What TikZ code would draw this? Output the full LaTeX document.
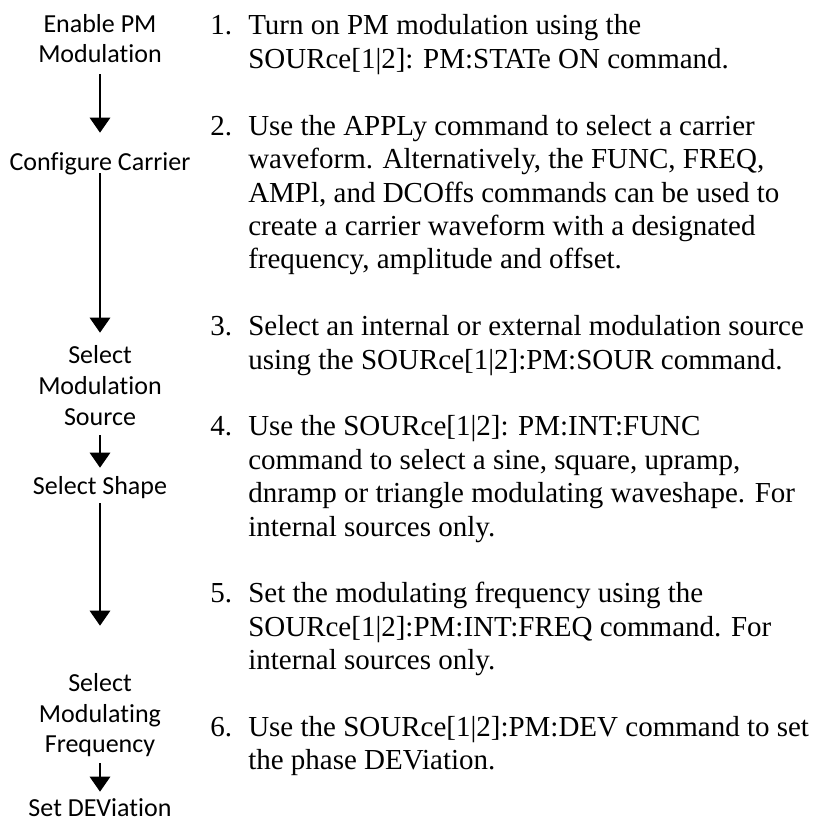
\documentclass[tikz,border=0pt]{standalone}
\usepackage{fontspec}
\setmainfont[Ligatures=NoCommon]{Liberation Serif}
\newfontfamily\leftfont[Ligatures=NoCommon]{Carlito}
\usetikzlibrary{arrows.meta}
\tikzset{
  lbl/.style={anchor=base, inner sep=0pt, text height=13.5pt, text depth=1.5pt,
    font=\leftfont\fontsize{19.5pt}{23pt}\selectfont},
  txt/.style={anchor=base west, inner sep=0pt,
    font=\fontsize{21.75pt}{26pt}\selectfont},
  num/.style={txt},
  arr/.style={line width=2.2pt, -{Triangle[width=15pt,length=11.25pt]}}
}
\begin{document}
\begin{tikzpicture}[x=0.75pt,y=-0.75pt]
\path[use as bounding box] (0,0) rectangle (813,824);
% left column
\node[lbl] (lEn)    at (100,33)  {Enable PM};
\node[lbl] (lMod)   at (100,63)  {Modulation};
\node[lbl] (lConf)  at (100,170) {Configure Carrier};
\node[lbl] (lSel)   at (100,363) {Select};
\node[lbl] (lMod2)  at (100,394) {Modulation};
\node[lbl] (lSrc)   at (100,425) {Source};
\node[lbl] (lShape) at (100,494) {Select Shape};
\node[lbl] (lSelB)  at (100,691) {Select};
\node[lbl] (lModg)  at (100,722) {Modulating};
\node[lbl] (lFreq)  at (100,752) {Frequency};
\node[lbl] (lSet)   at (100,816) {Set DEViation};
\draw[arr, shorten <=6.75pt, shorten >=14.25pt] (lMod.south) -- (lConf.north);
\draw[arr, shorten <=0.75pt, shorten >=9pt] (lConf.south) -- (lSel.north);
\draw[arr, shorten <=6pt, shorten >=6pt] (lSrc.south) -- (lShape.north);
\draw[arr, shorten <=5.25pt, shorten >=35.25pt] (lShape.south) -- (lSelB.north);
\draw[arr, shorten <=6.75pt, shorten >=4.5pt] (lFreq.south) -- (lSet.north);
% right column
\node[num] (n1) at (210,35) {1.};
\node[txt] (t1a) at (248,35)    {Turn on PM modulation using the};
\node[txt] (t1b) at (248,68.4)  {SOURce[1|2]: PM:STATe ON command.};
\node[num] (n2) at (210,135.2) {2.};
\node[txt] (t2a) at (248,135.2) {Use the APPLy command to select a carrier};
\node[txt] (t2b) at (248,168.6) {waveform. Alternatively, the FUNC, FREQ,};
\node[txt] (t2c) at (248,202)   {AMPl, and DCOffs commands can be used to};
\node[txt] (t2d) at (248,235.4) {create a carrier waveform with a designated};
\node[txt] (t2e) at (248,268.8) {frequency, amplitude and offset.};
\node[num] (n3) at (210,335.6) {3.};
\node[txt] (t3a) at (248,335.6) {Select an internal or external modulation source};
\node[txt] (t3b) at (248,369)   {using the SOURce[1|2]:PM:SOUR command.};
\node[num] (n4) at (210,435.8) {4.};
\node[txt] (t4a) at (248,435.8) {Use the SOURce[1|2]: PM:INT:FUNC};
\node[txt] (t4b) at (248,469.2) {command to select a sine, square, upramp,};
\node[txt] (t4c) at (248,502.6) {dnramp or triangle modulating waveshape. For};
\node[txt] (t4d) at (248,536)   {internal sources only.};
\node[num] (n5) at (210,602.8) {5.};
\node[txt] (t5a) at (248,602.8) {Set the modulating frequency using the};
\node[txt] (t5b) at (248,636.2) {SOURce[1|2]:PM:INT:FREQ command. For};
\node[txt] (t5c) at (248,669.6) {internal sources only.};
\node[num] (n6) at (210,736.4) {6.};
\node[txt] (t6a) at (248,736.4) {Use the SOURce[1|2]:PM:DEV command to set};
\node[txt] (t6b) at (248,769.8) {the phase DEViation.};
\end{tikzpicture}
\end{document}
